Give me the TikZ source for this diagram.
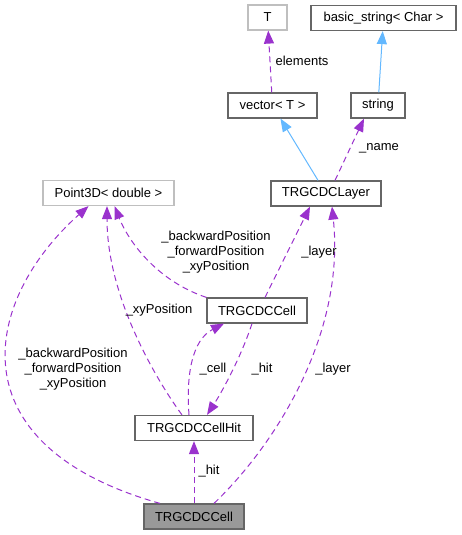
\documentclass[tikz,border=0pt]{standalone}
\usepackage{fontspec}
\setmainfont{Liberation Sans}
\usepackage{tikz}
\usetikzlibrary{arrows.meta}
\definecolor{edgepurple}{HTML}{9A32CD}
\definecolor{edgeblue}{HTML}{63B8FF}
\definecolor{boxgray}{HTML}{666666}
\definecolor{extgray}{HTML}{BFBFBF}
\definecolor{mainfill}{HTML}{999999}

\begin{document}
\begin{tikzpicture}[x=1pt,y=-1pt,font=\fontsize{13}{15}\selectfont]
    \tikzstyle{cls}=[draw=boxgray,line width=1.2pt,minimum height=25pt,inner xsep=0pt,inner ysep=0pt]
    \tikzstyle{ext}=[cls,draw=extgray]
    \tikzstyle{dep}=[draw=edgepurple,line width=1pt,dash pattern=on 6pt off 4pt,-{Triangle[length=13pt,width=10pt]}]
    \tikzstyle{inh}=[draw=edgeblue,line width=1pt,-{Triangle[length=13pt,width=10pt]}]
    \tikzstyle{lbl}=[align=center,inner sep=0pt]
    \useasboundingbox (0,0) rectangle (461,535);
    \node[ext,minimum width=39pt] (T) at (267.5,17.5) {T};
    \node[cls,minimum width=145pt] (bstr) at (383.5,18) {basic\_string< Char >};
    \node[cls,minimum width=89pt] (vec) at (272.5,105.5) {vector< T >};
    \node[cls,minimum width=54pt] (str) at (378,105.5) {string};
    \node[ext,minimum width=131pt] (p3d) at (108.5,193) {Point3D< double >};
    \node[cls,minimum width=110pt] (layer) at (326,193.5) {TRGCDCLayer};
    \node[cls,minimum width=100pt] (cell) at (257,310.5) {TRGCDCCell};
    \node[cls,minimum width=118pt] (hit) at (194,428) {TRGCDCCellHit};
    \node[cls,minimum width=100pt,fill=mainfill] (bot) at (194,516.5) {TRGCDCCell};
    \draw[dep] (vec) -- (T);
    \draw[inh] (str) -- (bstr);
    \draw[inh] (layer) -- (vec);
    \draw[dep] ([xshift=9pt]layer.north) -- ([xshift=-14pt]str.south);
    \draw[dep] (cell.north west) .. controls (160,282) and (130,245) .. ([xshift=6pt]p3d.south);
    \draw[dep] ([xshift=8pt]cell.north) -- ([xshift=-16pt]layer.south);
    \draw[dep] ([xshift=-12pt]hit.north) .. controls (160,385) and (107,300) .. ([xshift=-1.5pt]p3d.south);
    \draw[dep] ([xshift=-5pt]hit.north) .. controls (186,375) and (192,340) .. ([xshift=-33pt]cell.south);
    \draw[dep] ([xshift=-5pt]cell.south) .. controls (240,360) and (220,395) .. ([xshift=13pt]hit.north);
    \draw[dep] (bot) -- (hit);
    \draw[dep] ([xshift=-34pt]bot.north) .. controls (-47,445) and (-17,300) .. ([xshift=-20pt]p3d.south);
    \draw[dep] ([xshift=20pt]bot.north) .. controls (280,440) and (345,330) .. ([xshift=6pt]layer.south);
    \node[lbl] (l_elem) at (302,61) {elements};
    \node[lbl] (l_name) at (379,148) {\_name};
    \node[lbl] (l_cellpos) at (216,252) {\_backwardPosition\\\_forwardPosition\\\_xyPosition};
    \node[lbl] (l_celllay) at (319,252) {\_layer};
    \node[lbl] (l_hitpos) at (159,310) {\_xyPosition};
    \node[lbl] (l_cell) at (213,369) {\_cell};
    \node[lbl] (l_hit) at (262,369) {\_hit};
    \node[lbl] (l_botlay) at (333,369) {\_layer};
    \node[lbl] (l_bothit) at (209,471) {\_hit};
    \node[lbl] (l_botpos) at (73,369) {\_backwardPosition\\\_forwardPosition\\\_xyPosition};
  \end{tikzpicture}
\end{document}
